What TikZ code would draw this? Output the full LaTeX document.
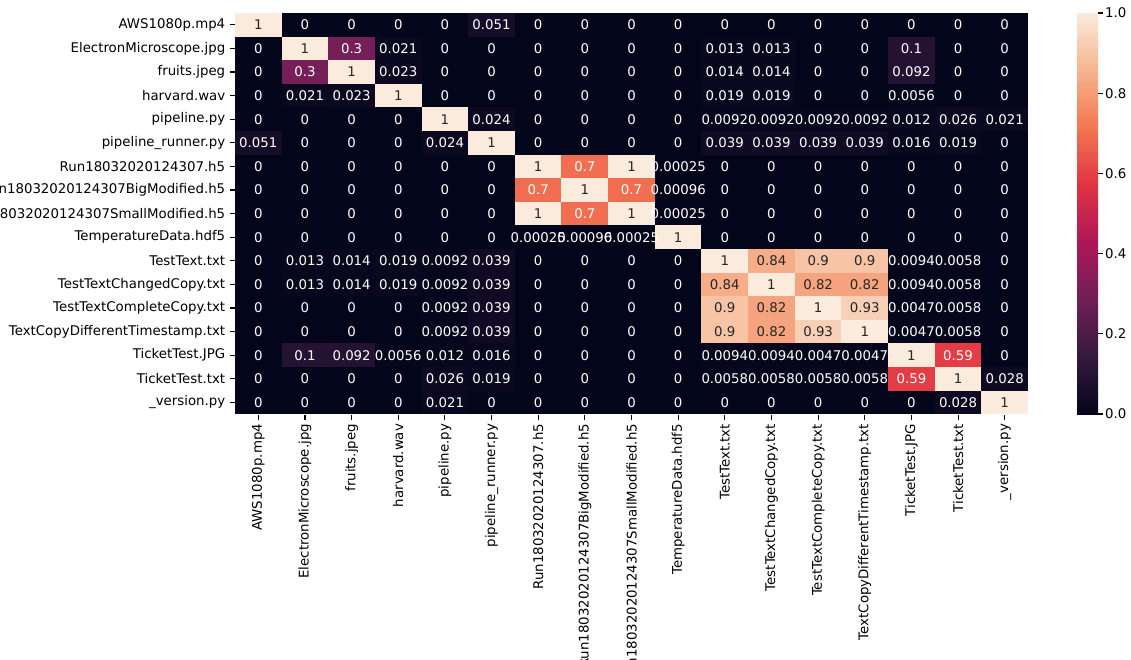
\documentclass[tikz,border=0pt]{standalone}
\usepackage{fontspec}
\setmainfont{DejaVu Sans}
\usetikzlibrary{positioning}
% rocket colour map, sampled
\definecolor{rk0}{HTML}{03051A}
\definecolor{rk1}{HTML}{35193E}
\definecolor{rk2}{HTML}{701F57}
\definecolor{rk3}{HTML}{AD1759}
\definecolor{rk4}{HTML}{E13342}
\definecolor{rk5}{HTML}{F37651}
\definecolor{rk6}{HTML}{F6B48F}
\definecolor{rk7}{HTML}{FAEBDD}
\definecolor{annodark}{HTML}{262626}
\tikzset{heatcell/.style={draw=none, inner sep=0pt, minimum width=33.7pt, minimum height=17.1pt}}
\tikzset{anno/.style={inner sep=0pt, font=\fontsize{9.6}{11.5}\selectfont}}
\tikzset{ticklabel/.style={inner sep=0pt, font=\fontsize{9.6}{11.5}\selectfont}}
\tikzset{tickline/.style={color=black, line width=0.8pt}}

\newcommand\setheatcolour[1]{%
  \pgfmathsetmacro\hv{min(#1*7,6.9999)}%
  \pgfmathtruncatemacro\hlo{\hv}%
  \pgfmathtruncatemacro\hhi{\hlo+1}%
  \pgfmathsetmacro\hmix{100*(\hhi-\hv)}%
  \colorlet{heatfill}{rk\hlo!\hmix!rk\hhi}%
}

\newcommand\filenames{AWS1080p.mp4, ElectronMicroscope.jpg, fruits.jpeg, harvard.wav,
  pipeline.py, pipeline\_runner.py, Run18032020124307.h5, Run18032020124307BigModified.h5,
  Run18032020124307SmallModified.h5, TemperatureData.hdf5, TestText.txt,
  TestTextChangedCopy.txt, TestTextCompleteCopy.txt, TextCopyDifferentTimestamp.txt,
  TicketTest.JPG, TicketTest.txt, \_version.py}

\newcommand\heatrows{%
  {1,0,0,0,0,0.051,0,0,0,0,0,0,0,0,0,0,0},
  {0,1,0.3,0.021,0,0,0,0,0,0,0.013,0.013,0,0,0.1,0,0},
  {0,0.3,1,0.023,0,0,0,0,0,0,0.014,0.014,0,0,0.092,0,0},
  {0,0.021,0.023,1,0,0,0,0,0,0,0.019,0.019,0,0,0.0056,0,0},
  {0,0,0,0,1,0.024,0,0,0,0,0.0092,0.0092,0.0092,0.0092,0.012,0.026,0.021},
  {0.051,0,0,0,0.024,1,0,0,0,0,0.039,0.039,0.039,0.039,0.016,0.019,0},
  {0,0,0,0,0,0,1,0.7,1,0.00025,0,0,0,0,0,0,0},
  {0,0,0,0,0,0,0.7,1,0.7,0.00096,0,0,0,0,0,0,0},
  {0,0,0,0,0,0,1,0.7,1,0.00025,0,0,0,0,0,0,0},
  {0,0,0,0,0,0,0.00025,0.00096,0.00025,1,0,0,0,0,0,0,0},
  {0,0.013,0.014,0.019,0.0092,0.039,0,0,0,0,1,0.84,0.9,0.9,0.0094,0.0058,0},
  {0,0.013,0.014,0.019,0.0092,0.039,0,0,0,0,0.84,1,0.82,0.82,0.0094,0.0058,0},
  {0,0,0,0,0.0092,0.039,0,0,0,0,0.9,0.82,1,0.93,0.0047,0.0058,0},
  {0,0,0,0,0.0092,0.039,0,0,0,0,0.9,0.82,0.93,1,0.0047,0.0058,0},
  {0,0.1,0.092,0.0056,0.012,0.016,0,0,0,0,0.0094,0.0094,0.0047,0.0047,1,0.59,0},
  {0,0,0,0,0.026,0.019,0,0,0,0,0.0058,0.0058,0.0058,0.0058,0.59,1,0.028},
  {0,0,0,0,0.021,0,0,0,0,0,0,0,0,0,0,0.028,1}}

\begin{document}
\begin{tikzpicture}[x=0.72pt, y=-0.72pt]
    \useasboundingbox (0,0) rectangle (1131,659);
    \fill[white] (0,0) rectangle (1131,659);
    \clip (0,0) rectangle (1131,659);

    % cells
    \foreach \row [count=\r] in \heatrows {
        \foreach \v [count=\c] in \row {
            \setheatcolour{\v}
            \pgfmathsetmacro\cx{235+46.65*(\c-0.5)}
            \pgfmathsetmacro\cy{13+23.6*(\r-0.5)}
            \node[heatcell, fill=heatfill] (c-\r-\c) at (\cx,\cy) {};
        }
    }

    % annotations on top of all cells
    \foreach \row [count=\r] in \heatrows {
        \foreach \v [count=\c] in \row {
            \ifdim \v pt>0.75pt \def\annocol{annodark}\else\def\annocol{white}\fi
            \node[anno, text=\annocol] (t-\r-\c) at (c-\r-\c) {\v};
        }
    }

    % row and column labels
    \foreach \name [count=\i] in \filenames {
        \draw [tickline] (c-\i-1.west) -- ++(-5,0) coordinate (yt-\i);
        \node[ticklabel, anchor=east] (row-\i) at ([xshift=-3pt]yt-\i) {\name};
        \draw [tickline] (c-17-\i.south) -- ++(0,5) coordinate (xt-\i);
        \node[ticklabel, anchor=east, rotate=90] (col-\i) at ([yshift=-3pt]xt-\i) {\name};
    }

    % colour bar
    \foreach \k [evaluate=\k as \kk using int(\k+1)] in {0,...,6} {
        \shade[bottom color=rk\k, top color=rk\kk]
            (1077,{414-57.286*\k}) rectangle (1098,{414-57.286*(\k+1)+0.3});
    }
    \foreach \lab [count=\i from 0] in {0.0,0.2,0.4,0.6,0.8,1.0} {
        \coordinate (cbt-\i) at (1098,{414-80.2*\i});
        \draw [tickline] (cbt-\i) -- ++(5,0);
        \node[ticklabel, anchor=west] (cb-\i) at ([xshift=5pt]cbt-\i) {\lab};
    }
\end{tikzpicture}
\end{document}
